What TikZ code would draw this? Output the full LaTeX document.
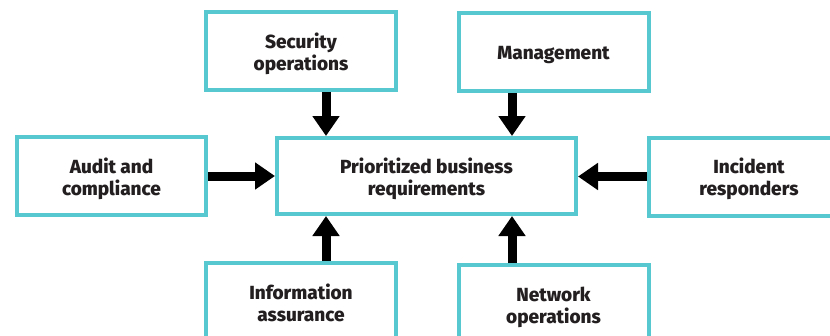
\documentclass[tikz,border=0pt]{standalone}
\usepackage{fontspec}
\setmainfont{Fira Sans}[BoldFont={Fira Sans ExtraBold}]
\usetikzlibrary{arrows.meta}
\definecolor{boxteal}{RGB}{88,200,208}
\definecolor{textdark}{RGB}{35,31,32}
\begin{document}
\begin{tikzpicture}[x=1pt,y=-1pt,
  box/.style={draw=boxteal, line width=4pt, fill=white, minimum width=190pt,
    minimum height=78pt, inner sep=0pt, align=center, text=textdark,
    font=\bfseries\fontsize{19}{22}\selectfont,
    execute at begin node={\rule{0pt}{#1}},
    execute at end node={\rule[-5pt]{0pt}{5pt}}},
  box/.default=43pt,
  arr/.style={line width=9pt, draw=black, -{Triangle[width=26pt,length=20pt]}}]
\useasboundingbox (0,0) rectangle (830,335);
\clip (0,0) rectangle (830,335);
\node[box, minimum width=299pt, minimum height=76pt] (prio) at (426.5,176) {Prioritized business\\requirements};
\node[box] (sec) at (301,51) {Security\\operations};
\node[box=19pt] (mgmt) at (553.5,52) {Management};
\node[box, minimum width=189pt] (audit) at (111.5,176) {Audit and\\compliance};
\node[box, minimum width=200pt] (inc) at (749,176.5) {Incident\\responders};
\node[box] (info) at (301,302) {Information\\assurance};
\node[box] (net) at (553.5,304) {Network\\operations};
\coordinate (a1) at ([xshift=25pt]sec.south);
\coordinate (a2) at ([xshift=-41.5pt]mgmt.south);
\coordinate (a3) at ([xshift=25pt]info.north);
\coordinate (a4) at ([xshift=-41.5pt]net.north);
\draw[arr] (a1) -- (a1 |- prio.north);
\draw[arr] (a2) -- (a2 |- prio.north);
\draw[arr] (a3) -- (a3 |- prio.south);
\draw[arr] (a4) -- (a4 |- prio.south);
\draw[arr] (audit.east) -- (audit.east -| prio.west);
\draw[arr] (inc.west) -- (inc.west -| prio.east);
\end{tikzpicture}
\end{document}
